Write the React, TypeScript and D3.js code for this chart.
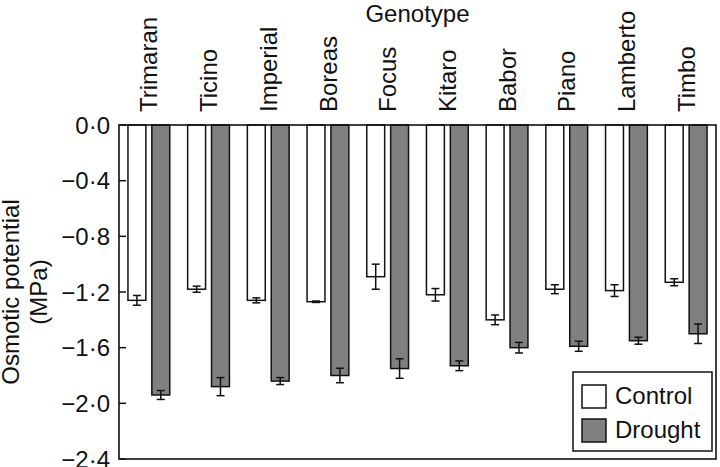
import React from 'react';
import * as d3 from 'd3';

const genotypes = ['Trimaran', 'Ticino', 'Imperial', 'Boreas', 'Focus', 'Kitaro', 'Babor', 'Piano', 'Lamberto', 'Timbo'];
const treatments = ['Control', 'Drought'];
const controlMean = [-1.26, -1.18, -1.26, -1.27, -1.09, -1.22, -1.40, -1.18, -1.19, -1.13];
const controlErr = [0.035, 0.022, 0.018, 0.005, 0.09, 0.045, 0.035, 0.032, 0.042, 0.025];
const droughtMean = [-1.94, -1.88, -1.84, -1.80, -1.75, -1.73, -1.60, -1.59, -1.55, -1.50];
const droughtErr = [0.032, 0.065, 0.025, 0.052, 0.07, 0.035, 0.038, 0.036, 0.025, 0.07];
const yTicks = [0, -0.4, -0.8, -1.2, -1.6, -2.0, -2.4];

const fills = { Control: '#ffffff', Drought: '#808080' };
const font = '"Liberation Sans", Arial, Helvetica, sans-serif';

export default function App() {
  const width = 720;
  const height = 467;
  const left = 119, right = 716, top = 125, bottom = 459;

  const x0 = d3.scaleBand<string>().domain(genotypes).range([left, right]);
  const x1 = d3.scaleBand<string>().domain(treatments).range([0, x0.bandwidth()])
    .paddingInner(0.25).paddingOuter(0.375);
  const y = d3.scaleLinear().domain([0, -2.4]).range([top, bottom]);

  const fmt = (v: number) => (v < 0 ? '\u2212' : '') + Math.abs(v).toFixed(1).replace('.', '\u00b7');

  const series = [
    { key: 'Control', mean: controlMean, err: controlErr },
    { key: 'Drought', mean: droughtMean, err: droughtErr },
  ];

  return (
    <svg width={width} height={height} style={{ position: 'absolute', left: 0, top: 0 }} fontFamily={font}>
      <rect width={width} height={height} fill="#fff" />

      {/* bars */}
      {series.map(s => (
        <g key={s.key}>
          {genotypes.map((g, i) => {
            const bx = (x0(g) ?? 0) + (x1(s.key) ?? 0);
            const bw = x1.bandwidth();
            const cx = bx + bw / 2;
            const v = s.mean[i];
            const e = s.err[i];
            return (
              <g key={g}>
                <rect x={bx} y={y(0)} width={bw} height={y(v) - y(0)}
                  fill={fills[s.key as 'Control' | 'Drought']} stroke="#111" strokeWidth={1.5} />
                <g stroke="#111" strokeWidth={1.5}>
                  <line x1={cx} x2={cx} y1={y(v + e)} y2={y(v - e)} />
                  <line x1={cx - 4} x2={cx + 4} y1={y(v + e)} y2={y(v + e)} />
                  <line x1={cx - 4} x2={cx + 4} y1={y(v - e)} y2={y(v - e)} />
                </g>
              </g>
            );
          })}
        </g>
      ))}

      {/* frame */}
      <rect x={left} y={top} width={right - left} height={bottom - top} fill="none" stroke="#111" strokeWidth={1.6} />

      {/* y ticks */}
      {yTicks.map(t => (
        <g key={t}>
          <line x1={left} x2={left + 7} y1={y(t)} y2={y(t)} stroke="#111" strokeWidth={1.5} />
          <text x={110} y={y(t)} dy="0.36em" textAnchor="end" fontSize={24} fill="#111">{fmt(t)}</text>
        </g>
      ))}

      {/* genotype labels */}
      {genotypes.map(g => {
        const cx = (x0(g) ?? 0) + x0.bandwidth() / 2;
        return (
          <text key={g} transform={`translate(${cx},112) rotate(-90)`} dy="0.36em"
            fontSize={24} fill="#111">{g}</text>
        );
      })}

      <text x={(left + right) / 2} y={22} textAnchor="middle" fontSize={24} fill="#111">Genotype</text>

      {/* y axis title */}
      <g transform={`translate(0,${(top + bottom) / 2}) rotate(-90)`} fontSize={24} fill="#111" textAnchor="middle">
        <text x={0} y={19}>Osmotic potential</text>
        <text x={0} y={47}>(MPa)</text>
      </g>

      {/* legend */}
      <g>
        <rect x={573} y={372} width={139} height={79} fill="#fff" stroke="#111" strokeWidth={1.5} />
        {treatments.map((t, i) => (
          <g key={t} transform={`translate(582,${385 + i * 34})`}>
            <rect width={24} height={23} fill={fills[t as 'Control' | 'Drought']} stroke="#111" strokeWidth={1.5} />
            <text x={33} y={19} fontSize={24} fill="#111">{t}</text>
          </g>
        ))}
      </g>
    </svg>
  );
}
